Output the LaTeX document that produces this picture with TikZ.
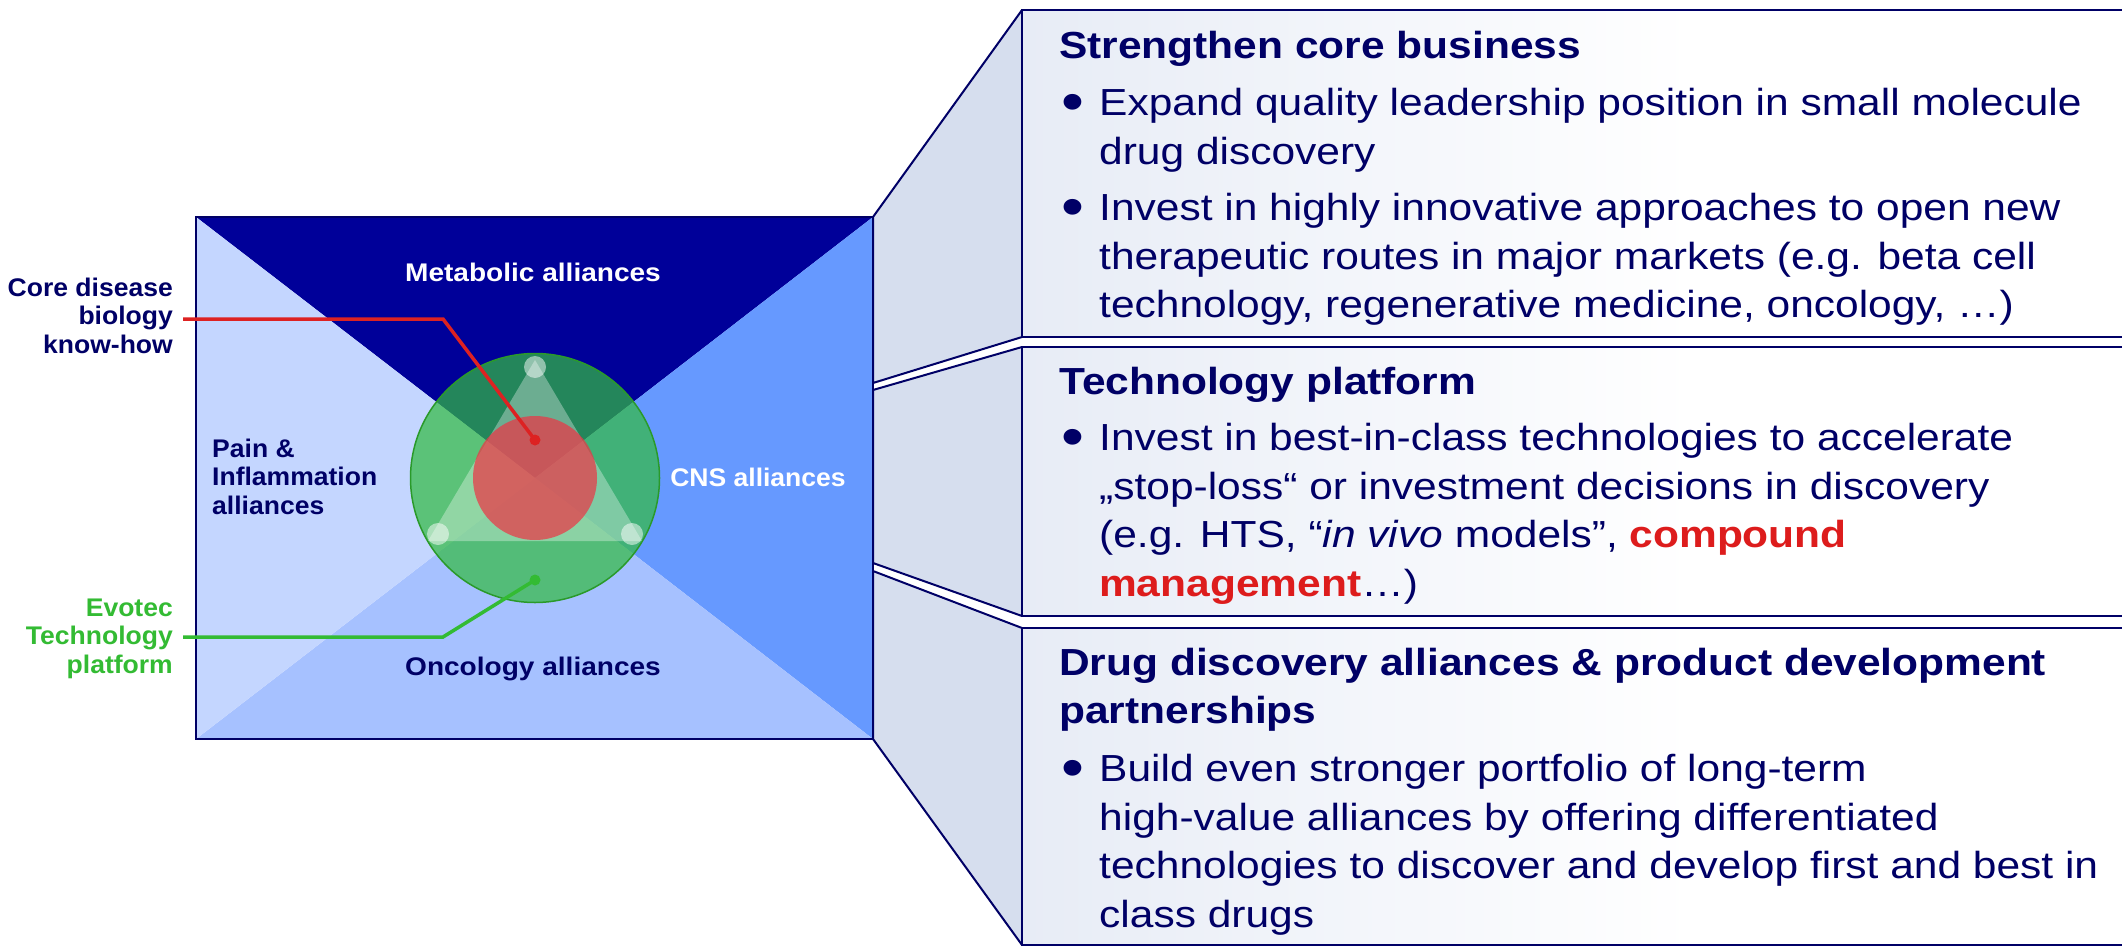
\documentclass[tikz,border=0pt]{standalone}
\usepackage{fontspec}
\setmainfont{Liberation Sans}
\newfontfamily\panelfont[FakeStretch=1.127]{Liberation Sans}
\newfontfamily\tagfont[FakeStretch=1.04]{Liberation Sans}
\newfontfamily\widetagfont[FakeStretch=1.10]{Liberation Sans}

\definecolor{ink}{HTML}{000066}
\definecolor{frame}{HTML}{000066}
\definecolor{metabC}{HTML}{000099}
\definecolor{cnsC}{HTML}{6699FF}
\definecolor{oncoC}{HTML}{A6C1FF}
\definecolor{painC}{HTML}{C4D6FF}
\definecolor{ringG}{HTML}{33BB44}
\definecolor{ringEdge}{HTML}{2A9A2A}
\definecolor{coreR}{HTML}{EE3344}
\definecolor{linkR}{HTML}{DD2222}
\definecolor{linkG}{HTML}{33BB33}
\definecolor{panelL}{HTML}{D3DCEE}
\definecolor{trapC}{HTML}{D6DEEE}
\definecolor{alertR}{HTML}{DD1C1C}

\pgfdeclarehorizontalshading{panelfade}{100bp}{color(0bp)=(panelL); color(55bp)=(white); color(100bp)=(white)}

% bullet and hanging indent for the panel lists
\newcommand\pbullet{\makebox[38pt][l]{\raisebox{-6pt}{\fontsize{58}{58}\selectfont •}}}
\newcommand\pindent{\hspace*{38pt}}

\begin{document}
\begin{tikzpicture}[x=1pt,y=-1pt,
  tagtxt/.style={font={\tagfont\bfseries\fontsize{25.5}{28.5}\selectfont}, inner sep=0pt},
  widetag/.style={font={\widetagfont\bfseries\fontsize{25.5}{28.5}\selectfont}, inner sep=0pt},
  phead/.style={font={\panelfont\bfseries\fontsize{37.7}{48.7}\selectfont}, text=ink, inner sep=0pt, anchor=north west, align=left},
  pbody/.style={font={\panelfont\fontsize{37.7}{48.7}\selectfont}, text=ink, inner sep=0pt, anchor=north west, align=left},
  panelbox/.style={shading=panelfade, draw=frame, line width=2.5pt},
  trap/.style={fill=trapC, draw=frame, line width=2pt, line join=round},
  dot/.style={circle, inner sep=0pt, minimum size=11pt},
  redlink/.style={draw=linkR, line width=3.5pt},
  greenlink/.style={draw=linkG, line width=3.5pt}]

\fill[white] (0,0) rectangle (2122,947);
\useasboundingbox (0,0) rectangle (2122,947);

% the four alliance areas of the square
\coordinate (sqTL) at (196,217);
\coordinate (sqTR) at (873,217);
\coordinate (sqBR) at (873,739);
\coordinate (sqBL) at (196,739);
\coordinate (sqC) at (535,478);
\fill[metabC] (sqTL) -- (sqTR) -- (sqC) -- cycle;
\fill[cnsC] (sqTR) -- (sqBR) -- (sqC) -- cycle;
\fill[oncoC] (sqBR) -- (sqBL) -- (sqC) -- cycle;
\fill[painC] (sqBL) -- (sqTL) -- (sqC) -- cycle;
\draw[frame, line width=2pt] (sqTL) rectangle (sqBR);

% technology platform ring, triangle and core biology disc
\fill[ringG, opacity=0.72] (sqC) circle[radius=124.5pt];
\draw[ringEdge, line width=1.5pt] (sqC) circle[radius=124.5pt];
\fill[white, opacity=0.33] (535,360) -- (642,541) -- (428,541) -- cycle;
\fill[white, opacity=0.5] (535,367) circle[radius=11pt];
\fill[white, opacity=0.5] (438,534) circle[radius=11pt];
\fill[white, opacity=0.5] (632,534) circle[radius=11pt];
\fill[coreR, opacity=0.7] (535,478) circle[radius=62pt];

% zoom callouts towards the panels
\filldraw[trap] (873,217) -- (1022,10) -- (1022,337) -- (873,383) -- cycle;
\filldraw[trap] (873,390) -- (1022,347) -- (1022,616) -- (873,563) -- cycle;
\filldraw[trap] (873,571) -- (1022,628) -- (1022,945) -- (873,739) -- cycle;

% panels
\shadedraw[panelbox] (1022,10) rectangle (2140,337);
\shadedraw[panelbox] (1022,347) rectangle (2140,616);
\shadedraw[panelbox] (1022,628) rectangle (2140,945);

% square labels
\node[widetag, text=white, anchor=base] (metab) at (533,281) {Metabolic alliances};
\node[tagtxt, text=white, anchor=base] (cns) at (758,486) {CNS alliances};
\node[widetag, text=ink, anchor=base] (onco) at (533,675) {Oncology alliances};
\node[tagtxt, text=ink, align=left, anchor=north west] (pain) at (212,438.5) {Pain \&\\Inflammation\\alliances};

% side labels and their leaders
\node[tagtxt, text=ink, align=right, anchor=north east, inner xsep=10pt] (core) at (183,277.4) {Core disease\\biology\\know-how};
\node[tagtxt, text=linkG, align=right, anchor=north east, inner xsep=10pt] (evo) at (183,598.7) {Evotec\\Technology\\platform};
\node[dot, fill=linkR] (reddot) at (535,440) {};
\node[dot, fill=linkG] (greendot) at (535,580) {};
\coordinate (rbend) at (443,319);
\coordinate (gbend) at (443,637);
\draw[redlink] (core.east |- rbend) -- (rbend) -- (reddot.center);
\draw[greenlink] (evo.east |- gbend) -- (gbend) -- (greendot.center);

% panel texts
\node[phead] (h1) at (1059,30.7) {Strengthen core business};
\node[pbody] (b1) at (1061,88) {\pbullet Expand quality leadership position in small molecule\\\pindent drug discovery};
\node[pbody] (b2) at (1061,193) {\pbullet Invest in highly innovative approaches to open new\\\pindent therapeutic routes in major markets (e.g. beta cell\\\pindent technology, regenerative medicine, oncology, …)};

\node[phead] (h2) at (1059,366.7) {Technology platform};
\node[pbody] (b3) at (1061,423) {\pbullet Invest in best-in-class technologies to accelerate\\\pindent „stop-loss“ or investment decisions in discovery\\\pindent (e.g. HTS, “\textit{in vivo} models”, {\color{alertR}\bfseries compound}\\\pindent {\color{alertR}\bfseries management}…)};

\node[phead] (h3) at (1059,647.7) {Drug discovery alliances \& product development\\partnerships};
\node[pbody] (b4) at (1061,754) {\pbullet Build even stronger portfolio of long-term\\\pindent high-value alliances by offering differentiated\\\pindent technologies to discover and develop first and best in\\\pindent class drugs};
\end{tikzpicture}
\end{document}
